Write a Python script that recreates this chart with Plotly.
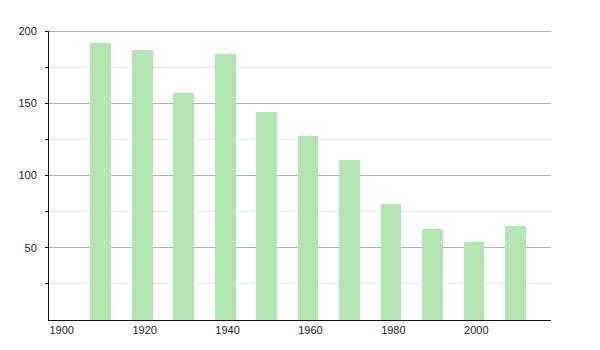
import plotly.graph_objects as go

years = [1910, 1920, 1930, 1940, 1950, 1960, 1970, 1980, 1990, 2000, 2010]
values = [192, 187, 157, 184, 144, 127, 111, 80, 63, 54, 65]
x_ticks = [1900, 1920, 1940, 1960, 1980, 2000]
y_ticks = [50, 100, 150, 200]

fig = go.Figure()
fig.add_trace(go.Bar(
    x=years, y=values, width=5, offset=0,
    marker=dict(color="rgb(179,229,179)", line=dict(width=0)),
    hoverinfo="x+y",
))

fig.update_layout(
    width=600, height=350,
    margin=dict(l=49, r=49, t=31, b=30),
    paper_bgcolor="white", plot_bgcolor="white",
    font=dict(family="Liberation Sans, Arial, sans-serif", size=11, color="#222"),
    showlegend=False,
    bargap=0,
)
# top gridline (plotly omits the gridline at the range edge)
fig.add_shape(type="line", xref="paper", x0=0, x1=1, yref="y",
              y0=y_ticks[-1], y1=y_ticks[-1], line=dict(color="#999999", width=1.5),
              layer="below")
fig.update_xaxes(
    range=[1900, 2021.1],
    tickvals=x_ticks, ticktext=[str(t) for t in x_ticks],
    ticklabelposition="outside right",
    showgrid=False, zeroline=False,
    showline=True, linecolor="#111", linewidth=1,
    ticks="", fixedrange=True,
)
fig.update_yaxes(
    range=[0, 200],
    tickvals=y_ticks,
    showgrid=True, gridcolor="#b0b0b0", gridwidth=1,
    zeroline=False,
    showline=True, linecolor="#111", linewidth=1,
    ticks="outside", ticklen=3, tickcolor="#111",
    minor=dict(tickvals=[25, 75, 125, 175], showgrid=True, gridcolor="#ebebeb",
               ticks="outside", ticklen=3, tickcolor="#111"),
    ticklabelstandoff=6,
    fixedrange=True,
)

fig.write_html("out.html")
